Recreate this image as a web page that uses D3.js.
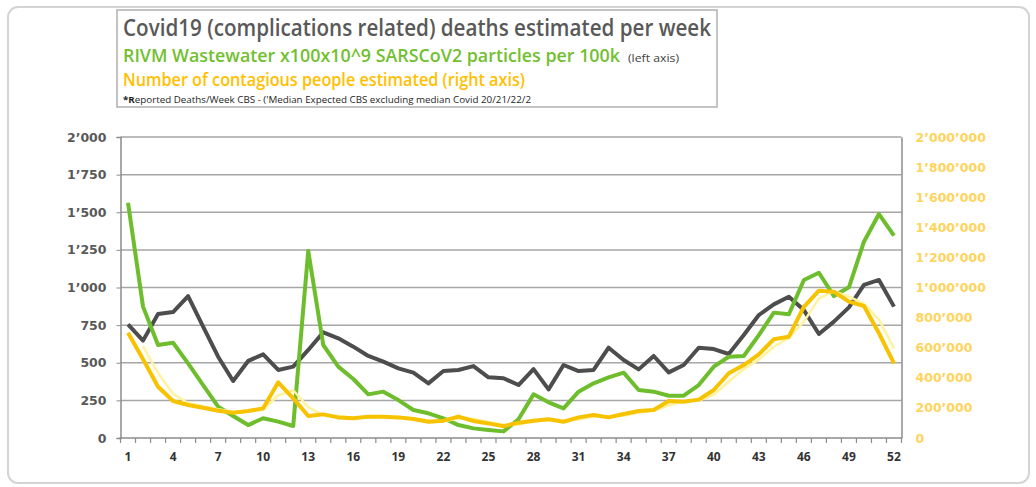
<!DOCTYPE html>
<html>
<head>
<meta charset="utf-8">
<script src="https://cdn.jsdelivr.net/npm/d3@7"></script>
<style>
  html, body { margin: 0; padding: 0; background: #fff; }
  svg { display: block; }
</style>
</head>
<body>
<svg id="chart" width="1036" height="487"></svg>
<script>
// ---------- DATA ----------
const weeks = d3.range(1, 53);
const xTickLabels = [1, 4, 7, 10, 13, 16, 19, 22, 25, 28, 31, 34, 37, 40, 43, 46, 49, 52];
const leftTicks = [0, 250, 500, 750, 1000, 1250, 1500, 1750, 2000];
const rightTicks = [0, 200000, 400000, 600000, 800000, 1000000, 1200000, 1400000, 1600000, 1800000, 2000000];

// Deaths per week (left axis) - dark gray
const deaths = [755, 647, 824, 837, 943, 740, 540, 379, 512, 556, 452, 474, 585, 702,
  662, 607, 545, 507, 463, 434, 363, 445, 452, 478, 403, 397, 352, 458, 323, 485,
  445, 452, 600, 518, 456, 545, 436, 485, 600, 591, 558, 684, 817, 888, 939, 850,
  691, 773, 868, 1017, 1050, 873];

// RIVM wastewater (left axis) - green
const wastewater = [1563, 873, 618, 633, 496, 352, 208, 146, 86, 131, 109, 80, 1243, 618,
  474, 392, 290, 308, 252, 186, 164, 131, 86, 64, 53, 44, 124, 290, 237, 197,
  308, 363, 403, 434, 319, 308, 281, 281, 352, 474, 540, 545, 684, 833, 822, 1050,
  1098, 943, 1001, 1304, 1488, 1344];

// Contagious people estimated (right axis) - gold
const contagious = [700000, 523000, 341000, 246000, 219000, 201000, 181000, 168000, 179000, 197000,
  370000, 264000, 146000, 157000, 137000, 131000, 142000, 142000, 137000, 126000,
  108000, 115000, 142000, 113000, 97000, 78000, 102000, 115000, 124000, 108000,
  137000, 153000, 137000, 159000, 179000, 186000, 246000, 241000, 255000, 319000,
  430000, 485000, 556000, 656000, 673000, 872000, 979000, 972000, 906000, 877000,
  696000, 496000];

// Pale trend line of contagious people (right axis)
const contagiousTrend = [null, 611000, 432000, 294000, 232000, 210000, 191000, 175000, 174000, 188000,
  284000, 317000, 205000, 152000, 147000, 134000, 137000, 142000, 140000, 132000,
  117000, 112000, 129000, 128000, 105000, 88000, 90000, 109000, 120000, 116000,
  123000, 145000, 145000, 148000, 169000, 183000, 216000, 244000, 248000, 287000,
  375000, 458000, 521000, 606000, 665000, 773000, 926000, 976000, 939000, 892000,
  787000, 596000];

// ---------- CHART ----------
const svg = d3.select("#chart");
const plot = { left: 120.5, right: 901.5, top: 137, bottom: 438 };

// outer frame
svg.append("rect")
  .attr("x", 8).attr("y", 7).attr("width", 1021).attr("height", 476)
  .attr("rx", 10).attr("ry", 10)
  .attr("fill", "#fff").attr("stroke", "#d4d4d4").attr("stroke-width", 2);

const x = d3.scaleBand().domain(weeks).range([plot.left, plot.right]).padding(0);
const xc = d => x(d) + x.bandwidth() / 2;
const yL = d3.scaleLinear().domain([0, 2000]).range([plot.bottom, plot.top]);
const yR = d3.scaleLinear().domain([0, 2000000]).range([plot.bottom, plot.top]);

const fmt = d3.formatLocale({ decimal: ".", thousands: "\u2019", grouping: [3], currency: ["", ""] }).format(",");

// gridlines
svg.append("g").selectAll("line").data(leftTicks.filter(d => d > 0)).join("line")
  .attr("x1", plot.left).attr("x2", plot.right)
  .attr("y1", d => yL(d)).attr("y2", d => yL(d))
  .attr("stroke", "#a6a6a6").attr("stroke-width", 1.5);

// left axis
const gL = svg.append("g").attr("transform", `translate(${plot.left},0)`)
  .call(d3.axisLeft(yL).tickValues(leftTicks).tickFormat(fmt).tickSize(4).tickPadding(10));
gL.select(".domain").attr("stroke", "#8c8c8c").attr("stroke-width", 1.5);
gL.selectAll(".tick line").attr("stroke", "#8c8c8c");
gL.selectAll(".tick text")
  .attr("font-family", "DejaVu Sans").attr("font-weight", "bold").attr("font-size", 12.5)
  .attr("fill", "#595959");

// right axis
const gR = svg.append("g").attr("transform", `translate(${plot.right},0)`)
  .call(d3.axisRight(yR).tickValues(rightTicks).tickFormat(fmt).tickSize(0).tickPadding(14));
gR.select(".domain").attr("stroke", "#8c8c8c").attr("stroke-width", 1.5);
gR.selectAll(".tick text")
  .attr("font-family", "DejaVu Sans").attr("font-weight", "bold").attr("font-size", 12.5)
  .attr("fill", "#ffd45c");

// bottom axis
const gX = svg.append("g").attr("transform", `translate(0,${plot.bottom})`);
gX.append("line").attr("x1", plot.left - 1).attr("x2", plot.right)
  .attr("stroke", "#8c8c8c").attr("stroke-width", 1.5);
gX.selectAll("line.tk").data(weeks.concat(["end"])).join("line").attr("class", "tk")
  .attr("x1", d => d === "end" ? plot.right : x(d))
  .attr("x2", d => d === "end" ? plot.right : x(d))
  .attr("y1", 0).attr("y2", 5)
  .attr("stroke", "#8c8c8c").attr("stroke-width", 1.2);
gX.selectAll("text").data(xTickLabels).join("text")
  .attr("x", d => xc(d)).attr("y", 23)
  .attr("text-anchor", "middle")
  .attr("font-family", "Open Sans").attr("font-weight", "bold").attr("font-size", 12)
  .attr("fill", "#333")
  .text(d => d);

// lines
const lineL = d3.line().x((d, i) => xc(weeks[i])).y(d => yL(d));
const lineR = d3.line().defined(d => d !== null).x((d, i) => xc(weeks[i])).y(d => yR(d));

svg.append("path").datum(deaths).attr("d", lineL)
  .attr("fill", "none").attr("stroke", "#4d4d4d").attr("stroke-width", 4)
  .attr("stroke-linejoin", "round");
svg.append("path").datum(wastewater).attr("d", lineL)
  .attr("fill", "none").attr("stroke", "#6dbd2d").attr("stroke-width", 4)
  .attr("stroke-linejoin", "round");
svg.append("path").datum(contagiousTrend).attr("d", lineR)
  .attr("fill", "none").attr("stroke", "#fff3a0").attr("stroke-width", 2.5)
  .attr("stroke-linejoin", "round");
svg.append("path").datum(contagious).attr("d", lineR)
  .attr("fill", "none").attr("stroke", "#f7c200").attr("stroke-width", 4)
  .attr("stroke-linejoin", "round");

// title box
svg.append("rect").attr("x", 117).attr("y", 10).attr("width", 600).attr("height", 97)
  .attr("fill", "#fff").attr("stroke", "#b0b0b0").attr("stroke-width", 1.5);

const tf = "Open Sans";
svg.append("text").attr("x", 123).attr("y", 36)
  .attr("font-family", tf).attr("font-weight", 600).attr("font-size", 23)
  .attr("fill", "#595959")
  .attr("textLength", 588).attr("lengthAdjust", "spacingAndGlyphs")
  .text("Covid19 (complications related) deaths estimated per week");

svg.append("text").attr("x", 123).attr("y", 62)
  .attr("font-family", tf).attr("font-weight", 600).attr("font-size", 17.5)
  .attr("fill", "#72bf30")
  .attr("textLength", 497).attr("lengthAdjust", "spacingAndGlyphs")
  .text("RIVM Wastewater x100x10^9 SARSCoV2 particles per 100k");
svg.append("text").attr("x", 628).attr("y", 62)
  .attr("font-family", tf).attr("font-weight", 400).attr("font-size", 10.5)
  .attr("fill", "#404040")
  .attr("textLength", 51).attr("lengthAdjust", "spacingAndGlyphs")
  .text("(left axis)");

svg.append("text").attr("x", 123).attr("y", 86)
  .attr("font-family", tf).attr("font-weight", 600).attr("font-size", 17.5)
  .attr("fill", "#ffc000")
  .attr("textLength", 402).attr("lengthAdjust", "spacingAndGlyphs")
  .text("Number of contagious people estimated (right axis)");

const t4 = svg.append("text").attr("x", 123).attr("y", 103)
  .attr("font-family", tf).attr("font-weight", 400).attr("font-size", 9.5)
  .attr("fill", "#262626")
  .attr("textLength", 408).attr("lengthAdjust", "spacingAndGlyphs");
t4.append("tspan").attr("font-weight", 700).text("*R");
t4.append("tspan").text("eported Deaths/Week CBS - ('Median Expected CBS excluding median Covid 20/21/22/2");
</script>
</body>
</html>
